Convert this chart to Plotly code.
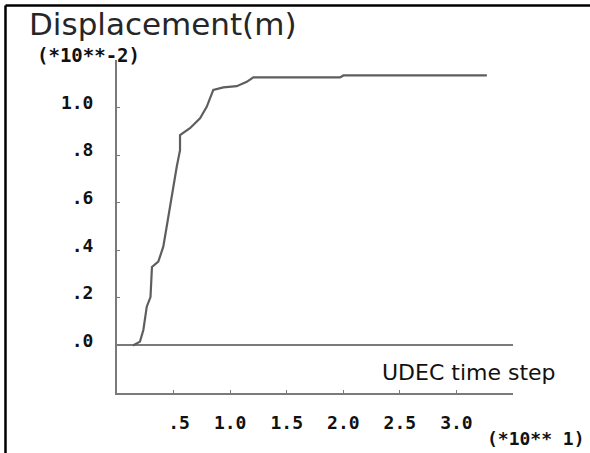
import plotly.graph_objects as go

# UDEC time step (x10^1) and displacement (x10^-2 m)
time_step = [0.141, 0.203, 0.233, 0.263, 0.296, 0.309, 0.365, 0.409, 0.439, 0.469,
             0.498, 0.528, 0.557, 0.557, 0.645, 0.734, 0.793, 0.851, 0.940, 1.058,
             1.147, 1.205, 1.972, 2.001, 3.269]
displacement = [0.0, 0.016, 0.065, 0.163, 0.203, 0.330, 0.352, 0.415, 0.499, 0.583,
                0.681, 0.751, 0.821, 0.884, 0.913, 0.955, 1.003, 1.074, 1.085, 1.090,
                1.108, 1.127, 1.127, 1.135, 1.135]

x_tickvals = [0.5, 1.0, 1.5, 2.0, 2.5, 3.0]
x_ticktext = ["\u00a0.5", "1.0", "1.5", "2.0", "2.5", "3.0"]
y_tickvals = [0.0, 0.2, 0.4, 0.6, 0.8, 1.0]
y_ticktext = [".0", ".2", ".4", ".6", ".8", "1.0"]

AX = "#7a7a7a"
TICKFONT = dict(family="DejaVu Sans Mono", size=18, color="#111111", weight="bold")

fig = go.Figure()
fig.add_trace(go.Scatter(x=time_step, y=displacement, mode="lines",
                         line=dict(color="#5e5e5e", width=2.2), showlegend=False,
                         hoverinfo="skip"))

fig.update_layout(
    width=590, height=453,
    margin=dict(l=117, r=77, t=60, b=60),
    paper_bgcolor="white", plot_bgcolor="white",
    xaxis=dict(range=[0, 3.5], showgrid=False, zeroline=False,
               showline=True, linecolor=AX, linewidth=2,
               ticks="inside", ticklen=3, tickcolor=AX, tickwidth=1,
               tickvals=x_tickvals, ticktext=x_ticktext, tickfont=TICKFONT,
               ticklabelstandoff=12),
    yaxis=dict(range=[-0.2, 1.2], showgrid=False, zeroline=True,
               zerolinecolor=AX, zerolinewidth=2,
               showline=True, linecolor=AX, linewidth=2,
               ticks="inside", ticklen=3, tickcolor=AX, tickwidth=1,
               tickvals=y_tickvals, ticktext=y_ticktext, tickfont=TICKFONT,
               ticklabelstandoff=18, ticklabelshift=-5),
    shapes=[
        dict(type="line", xref="paper", yref="paper", x0=-0.2816, x1=1.2, y0=1.1637, y1=1.1637,
             line=dict(color="black", width=2.5)),
        dict(type="line", xref="paper", yref="paper", x0=-0.2816, x1=-0.2816, y0=1.1637, y1=-0.2,
             line=dict(color="black", width=2.5)),
    ],
    annotations=[
        dict(text="Displacement(m)", xref="paper", yref="paper",
             x=(27 - 117) / 396, y=(393 - 24) / 333, xanchor="left", yanchor="middle",
             showarrow=False, font=dict(family="DejaVu Sans", size=31, color="#262626")),
        dict(text="(*10**-2)", xref="paper", yref="paper",
             x=(35 - 117) / 396, y=(393 - 55) / 333, xanchor="left", yanchor="middle",
             showarrow=False, font=dict(family="DejaVu Sans Mono", size=19, color="#111111", weight="bold")),
        dict(text="UDEC time step", xref="paper", yref="paper",
             x=(380 - 117) / 396, y=(393 - 372) / 333, xanchor="left", yanchor="middle",
             showarrow=False, font=dict(family="DejaVu Sans", size=22, color="#111111")),
        dict(text="(*10** 1)", xref="paper", yref="paper",
             x=(485 - 117) / 396, y=(393 - 438) / 333, xanchor="left", yanchor="middle",
             showarrow=False, font=dict(family="DejaVu Sans Mono", size=18, color="#111111", weight="bold")),
    ],
)

fig.write_html("out.html")
